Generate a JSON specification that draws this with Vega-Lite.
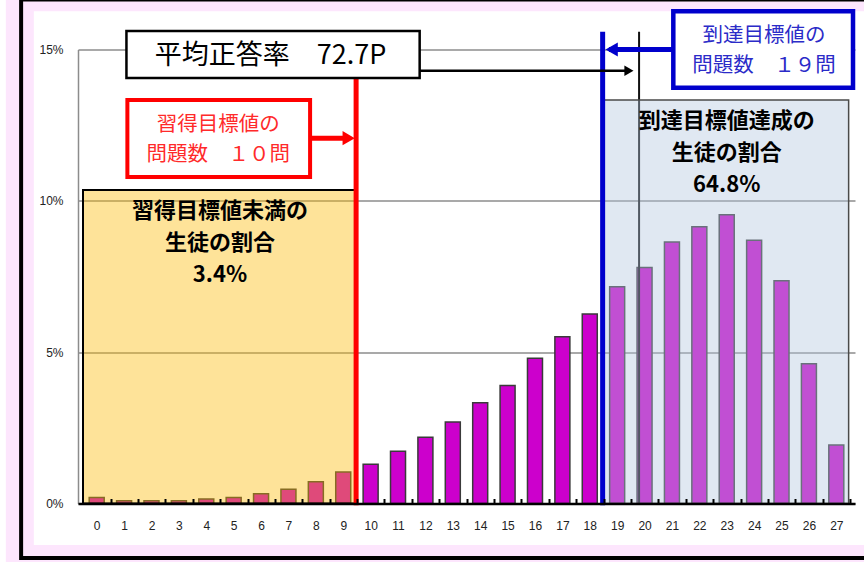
{
  "$schema": "https://vega.github.io/schema/vega-lite/v6.json",
  "width": 777,
  "height": 454,
  "autosize": "none",
  "padding": {"left": 78, "top": 49.5, "right": 9, "bottom": 58.5},
  "background": "#ffffff",
  "config": {"view": {"stroke": null}, "font": "Liberation Sans"},
  "resolve": {"axis": {"x": "independent", "y": "independent"}},
  "data": {"values": [
    {"score": 0, "pct": 0.20}, {"score": 1, "pct": 0.09}, {"score": 2, "pct": 0.09}, {"score": 3, "pct": 0.09},
    {"score": 4, "pct": 0.15}, {"score": 5, "pct": 0.20}, {"score": 6, "pct": 0.32}, {"score": 7, "pct": 0.47},
    {"score": 8, "pct": 0.72}, {"score": 9, "pct": 1.04}, {"score": 10, "pct": 1.30}, {"score": 11, "pct": 1.73},
    {"score": 12, "pct": 2.19}, {"score": 13, "pct": 2.69}, {"score": 14, "pct": 3.33}, {"score": 15, "pct": 3.90},
    {"score": 16, "pct": 4.80}, {"score": 17, "pct": 5.51}, {"score": 18, "pct": 6.26}, {"score": 19, "pct": 7.16},
    {"score": 20, "pct": 7.80}, {"score": 21, "pct": 8.64}, {"score": 22, "pct": 9.14}, {"score": 23, "pct": 9.54},
    {"score": 24, "pct": 8.70}, {"score": 25, "pct": 7.36}, {"score": 26, "pct": 4.62}, {"score": 27, "pct": 1.93}
  ]},
  "layer": [
    {
      "mark": {"type": "bar", "orient": "vertical", "width": 15, "color": "#cc00cc", "stroke": "#3a3a3a", "strokeWidth": 1.5},
      "encoding": {
        "x": {"field": "score", "type": "quantitative",
          "scale": {"domain": [-0.5, 27.5], "nice": false, "zero": false},
          "axis": {"title": null, "grid": false, "zindex": 1,
            "values": [0,1,2,3,4,5,6,7,8,9,10,11,12,13,14,15,16,17,18,19,20,21,22,23,24,25,26,27],
            "format": "d",
            "tickOffset": 13.875, "labelOffset": -13.875, "tickSize": -5, "tickWidth": 2, "tickColor": "#000000",
            "domainColor": "#000000", "domainWidth": 2.5,
            "labelFontSize": 12, "labelColor": "#222222", "labelPadding": 22,
            "labelOverlap": false, "labelFlush": false, "labelBound": false, "labelSeparation": 0}},
        "y": {"field": "pct", "type": "quantitative",
          "scale": {"domain": [0, 15], "nice": false},
          "axis": {"title": null, "values": [0, 5, 10, 15], "labelExpr": "datum.value + '%'",
            "grid": true, "gridColor": "#8c8c8c", "gridWidth": 1.5,
            "domainColor": "#8c8c8c", "domainWidth": 1.5, "ticks": false,
            "labelFontSize": 12, "labelColor": "#222222", "labelPadding": 15}}
      }
    },
    {
      "data": {"values": [{}]},
      "mark": {"type": "rule", "color": "#111111", "strokeWidth": 2},
      "encoding": {"x": {"datum": 19.8, "type": "quantitative", "axis": null}, "y": {"datum": 0, "type": "quantitative", "axis": null}, "y2": {"datum": 15.59}}
    },
    {
      "data": {"values": [{}]},
      "mark": {"type": "rect", "fill": "#fcb900", "fillOpacity": 0.4, "stroke": "#000000", "strokeWidth": 2},
      "encoding": {"x": {"datum": -0.5, "type": "quantitative", "axis": null}, "x2": {"datum": 9.5}, "y": {"datum": 0, "type": "quantitative", "axis": null}, "y2": {"datum": 10.36}}
    },
    {
      "data": {"values": [{}]},
      "mark": {"type": "rect", "fill": "#b1c5de", "fillOpacity": 0.4, "stroke": "#4a4a4a", "strokeWidth": 1.5},
      "encoding": {"x": {"datum": 18.5, "type": "quantitative", "axis": null}, "x2": {"datum": 27.45}, "y": {"datum": 0, "type": "quantitative", "axis": null}, "y2": {"datum": 13.33}}
    },
    {
      "data": {"values": [{}]},
      "mark": {"type": "rule", "color": "#ff0000", "strokeWidth": 5},
      "encoding": {"x": {"datum": 9.47, "type": "quantitative", "axis": null}, "y": {"datum": -0.06, "type": "quantitative", "axis": null}, "y2": {"datum": 14.3}}
    },
    {
      "data": {"values": [{}]},
      "mark": {"type": "rule", "color": "#0000cc", "strokeWidth": 5},
      "encoding": {"x": {"datum": 18.47, "type": "quantitative", "axis": null}, "y": {"datum": -0.06, "type": "quantitative", "axis": null}, "y2": {"datum": 15.59}}
    },
    {
      "data": {"values": [{}]},
      "mark": {"type": "rule", "color": "#000000", "strokeWidth": 2.5},
      "encoding": {"x": {"datum": 11.5, "type": "quantitative", "axis": null}, "x2": {"datum": 19.4}, "y": {"datum": 14.3, "type": "quantitative", "axis": null}}
    },
    {
      "data": {"values": [{}]},
      "mark": {"type": "point", "shape": "triangle-right", "filled": true, "color": "#000000", "size": 110, "opacity": 1},
      "encoding": {"x": {"datum": 19.43, "type": "quantitative", "axis": null}, "y": {"datum": 14.3, "type": "quantitative", "axis": null}}
    },
    {
      "data": {"values": [{}]},
      "mark": {"type": "rule", "color": "#ff0000", "strokeWidth": 5},
      "encoding": {"x": {"datum": 7.79, "type": "quantitative", "axis": null}, "x2": {"datum": 9.1}, "y": {"datum": 12.07, "type": "quantitative", "axis": null}}
    },
    {
      "data": {"values": [{}]},
      "mark": {"type": "point", "shape": "triangle-right", "filled": true, "color": "#ff0000", "size": 200, "opacity": 1},
      "encoding": {"x": {"datum": 9.2, "type": "quantitative", "axis": null}, "y": {"datum": 12.07, "type": "quantitative", "axis": null}}
    },
    {
      "data": {"values": [{}]},
      "mark": {"type": "rule", "color": "#0000cc", "strokeWidth": 5},
      "encoding": {"x": {"datum": 18.7, "type": "quantitative", "axis": null}, "x2": {"datum": 21.05}, "y": {"datum": 15.0, "type": "quantitative", "axis": null}}
    },
    {
      "data": {"values": [{}]},
      "mark": {"type": "point", "shape": "triangle-left", "filled": true, "color": "#0000cc", "size": 200, "opacity": 1},
      "encoding": {"x": {"datum": 18.8, "type": "quantitative", "axis": null}, "y": {"datum": 15.0, "type": "quantitative", "axis": null}}
    },
    {
      "data": {"values": [{}]},
      "mark": {"type": "rect", "fill": "#ffffff", "stroke": "#000000", "strokeWidth": 2.5},
      "encoding": {"x": {"datum": 1.086, "type": "quantitative", "axis": null}, "x2": {"datum": 11.79}, "y": {"datum": 14.06, "type": "quantitative", "axis": null}, "y2": {"datum": 15.61}}
    },
    {
      "data": {"values": [{}]},
      "mark": {"type": "text", "text": "平均正答率　72.7P", "font": "Noto Sans CJK JP", "fontSize": 27, "color": "#000000", "align": "center", "baseline": "middle"},
      "encoding": {"x": {"datum": 6.35, "type": "quantitative", "axis": null}, "y": {"datum": 14.79, "type": "quantitative", "axis": null}}
    },
    {
      "data": {"values": [{}]},
      "mark": {"type": "rect", "fill": "#ffffff", "stroke": "#ff0000", "strokeWidth": 4},
      "encoding": {"x": {"datum": 1.12, "type": "quantitative", "axis": null}, "x2": {"datum": 7.79}, "y": {"datum": 10.79, "type": "quantitative", "axis": null}, "y2": {"datum": 13.33}}
    },
    {
      "data": {"values": [{}]},
      "mark": {"type": "text", "text": ["習得目標値の", "問題数　１０問"], "lineHeight": 30, "font": "Noto Sans CJK JP", "fontSize": 20.5, "color": "#ff2a2a", "align": "center", "baseline": "middle"},
      "encoding": {"x": {"datum": 4.44, "type": "quantitative", "axis": null}, "y": {"datum": 12.51, "type": "quantitative", "axis": null}}
    },
    {
      "data": {"values": [{}]},
      "mark": {"type": "text", "text": ["習得目標値未満の", "生徒の割合", "3.4%"], "lineHeight": 32, "font": "Noto Sans CJK JP", "fontSize": 22, "fontWeight": "bold", "color": "#000000", "align": "center", "baseline": "middle"},
      "encoding": {"x": {"datum": 4.5, "type": "quantitative", "axis": null}, "y": {"datum": 9.68, "type": "quantitative", "axis": null}}
    },
    {
      "data": {"values": [{}]},
      "mark": {"type": "text", "text": ["到達目標値達成の", "生徒の割合", "64.8%"], "lineHeight": 32, "font": "Noto Sans CJK JP", "fontSize": 22, "fontWeight": "bold", "color": "#000000", "align": "center", "baseline": "middle"},
      "encoding": {"x": {"datum": 23.0, "type": "quantitative", "axis": null}, "y": {"datum": 12.64, "type": "quantitative", "axis": null}}
    },
    {
      "data": {"values": [{}]},
      "mark": {"type": "rect", "fillOpacity": 0, "stroke": "#fde6fd", "strokeWidth": 28},
      "encoding": {"x": {"datum": -2.806, "type": "quantitative", "axis": null}, "x2": {"datum": 32.73}, "y": {"datum": -1.834, "type": "quantitative", "axis": null}, "y2": {"datum": 16.73}}
    },
    {
      "data": {"values": [{}]},
      "mark": {"type": "rect", "fillOpacity": 0, "stroke": "#000000", "strokeWidth": 4},
      "encoding": {"x": {"datum": -2.759, "type": "quantitative", "axis": null}, "x2": {"datum": 32.73}, "y": {"datum": -1.80, "type": "quantitative", "axis": null}, "y2": {"datum": 16.65}}
    },
    {
      "data": {"values": [{}]},
      "mark": {"type": "rect", "fill": "#ffffff", "stroke": "#0000cc", "strokeWidth": 4.5},
      "encoding": {"x": {"datum": 21.05, "type": "quantitative", "axis": null}, "x2": {"datum": 27.61}, "y": {"datum": 13.74, "type": "quantitative", "axis": null}, "y2": {"datum": 16.26}}
    },
    {
      "data": {"values": [{}]},
      "mark": {"type": "text", "text": ["到達目標値の", "問題数　１９問"], "lineHeight": 30, "font": "Noto Sans CJK JP", "fontSize": 20.5, "color": "#2b2bc8", "align": "center", "baseline": "middle"},
      "encoding": {"x": {"datum": 24.36, "type": "quantitative", "axis": null}, "y": {"datum": 15.46, "type": "quantitative", "axis": null}}
    }
  ]
}
